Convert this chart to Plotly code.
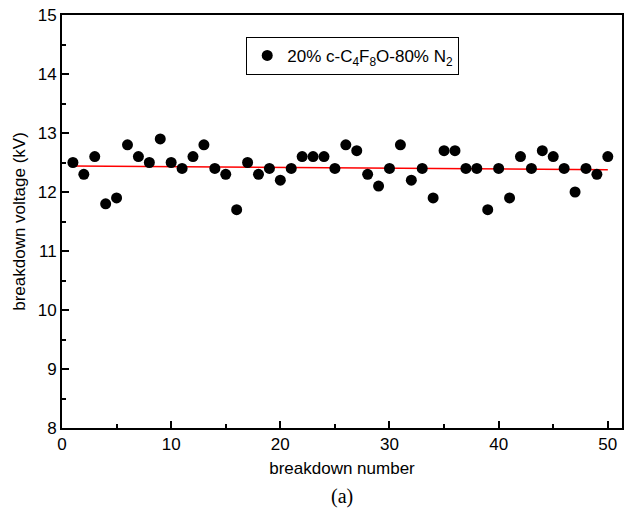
import numpy as np
import plotly.graph_objects as go

breakdown_number = list(range(1, 51))
voltage_kv = [12.5, 12.3, 12.6, 11.8, 11.9, 12.8, 12.6, 12.5, 12.9, 12.5,
              12.4, 12.6, 12.8, 12.4, 12.3, 11.7, 12.5, 12.3, 12.4, 12.2,
              12.4, 12.6, 12.6, 12.6, 12.4, 12.8, 12.7, 12.3, 12.1, 12.4,
              12.8, 12.2, 12.4, 11.9, 12.7, 12.7, 12.4, 12.4, 11.7, 12.4,
              11.9, 12.6, 12.4, 12.7, 12.6, 12.4, 12.0, 12.4, 12.3, 12.6]

x_ticks = [0, 10, 20, 30, 40, 50]
y_ticks = [8, 9, 10, 11, 12, 13, 14, 15]

slope, intercept = np.polyfit(breakdown_number, voltage_kv, 1)
fit_x = [breakdown_number[0], breakdown_number[-1]]
fit_y = [slope * v + intercept for v in fit_x]

FONT = "Liberation Sans, Arial"

fig = go.Figure()
fig.add_trace(go.Scatter(
    x=fit_x, y=fit_y, mode="lines",
    line=dict(color="#ff0000", width=1.5), showlegend=False))
fig.add_trace(go.Scatter(
    x=breakdown_number, y=voltage_kv, mode="markers",
    marker=dict(color="black", size=11),
    name="20% c-C<sub>4</sub>F<sub>8</sub>O-80% N<sub>2</sub>"))

axis_common = dict(
    showline=True, linecolor="black", linewidth=2, mirror=True,
    ticks="inside", ticklen=7, tickwidth=1.5, tickcolor="black",
    showgrid=False, zeroline=False, automargin=False,
    tickfont=dict(family=FONT, size=17, color="black"),
)

fig.update_xaxes(
    range=[0, 51.3], tickvals=x_ticks,
    minor=dict(ticks="inside", ticklen=4, tickwidth=1.5, tickcolor="black", dtick=5, tick0=0),
    title=dict(text="breakdown number", standoff=9,
               font=dict(family=FONT, size=17, color="black")),
    **axis_common)
fig.update_yaxes(
    range=[8, 15], tickvals=y_ticks,
    minor=dict(ticks="inside", ticklen=4, tickwidth=1.5, tickcolor="black", dtick=0.5, tick0=8),
    title=dict(text="breakdown voltage (kV)", standoff=8,
               font=dict(family=FONT, size=17, color="black")),
    **axis_common)

fig.update_layout(
    width=634, height=518,
    margin=dict(l=62, r=12, t=15, b=90),
    paper_bgcolor="white", plot_bgcolor="white",
    legend=dict(x=0.329, y=0.947, xanchor="left", yanchor="top",
                bordercolor="black", borderwidth=1, bgcolor="white",
                itemwidth=30,
                font=dict(family=FONT, size=17, color="black")),
    annotations=[dict(text="(a)", xref="paper", yref="paper", x=0.5, y=-0.167,
                      xanchor="center", yanchor="middle", showarrow=False,
                      font=dict(family="Liberation Serif, Times New Roman", size=20, color="black"))],
)

fig.write_html("out.html", config={"displayModeBar": False},
               post_script="document.body.style.margin='0';")
